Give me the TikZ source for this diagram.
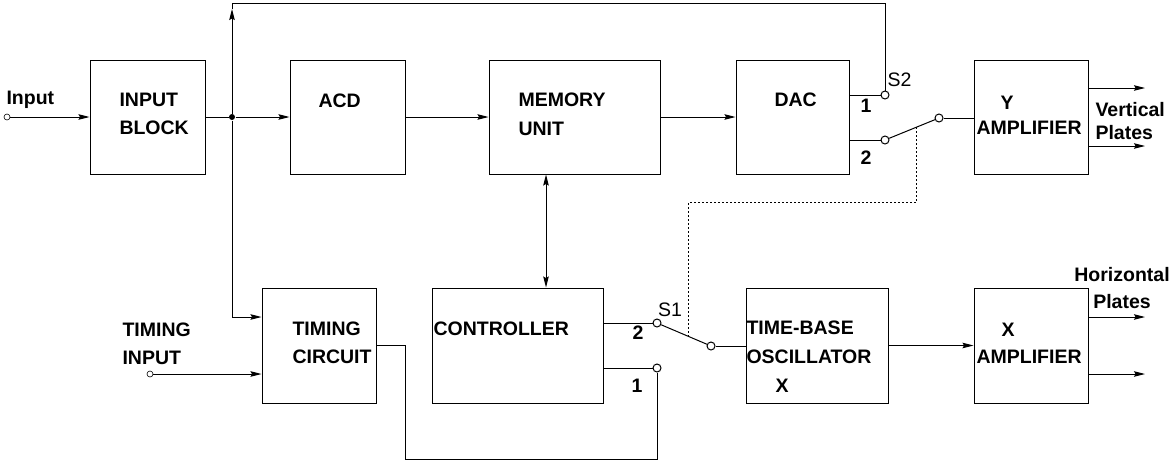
\documentclass[tikz,border=0pt]{standalone}
\usepackage{fontspec}
\setmainfont{Liberation Sans}
\usetikzlibrary{arrows.meta,calc}
\begin{document}
\begin{tikzpicture}[x=1pt, y=-1pt, line width=1pt,
        >={Stealth[length=11pt,width=5.5pt,inset=1.5pt]},
        blk/.style={draw, rectangle, inner sep=0pt, minimum height=114pt},
        txt/.style={font=\fontsize{19.5}{28}\selectfont\bfseries, align=left, anchor=west, inner sep=0pt},
        lbl/.style={font=\fontsize{19.5}{24}\selectfont\bfseries, inner sep=0pt},
        swlbl/.style={font=\fontsize{19.5}{24}\selectfont, inner sep=0pt},
        sw/.style={draw, circle, fill=white, inner sep=0pt, minimum size=8pt},
        term/.style={draw, circle, fill=white, inner sep=0pt, minimum size=6pt, line width=0.6pt},
        dotline/.style={line width=0.8pt, dash pattern=on 2pt off 2pt}]
        \useasboundingbox (0,0) rectangle (1169,461);
        \node[blk, minimum width=115pt] (inblk) at (147.5,117) {};
        \node[blk, minimum width=115pt] (acd) at (347.5,117) {};
        \node[blk, minimum width=171pt] (mem) at (574.5,117) {};
        \node[blk, minimum width=113pt] (dac) at (792.5,117) {};
        \node[blk, minimum width=114pt] (yamp) at (1031,117) {};
        \node[blk, minimum width=114pt, minimum height=115pt] (tim) at (319,345.5) {};
        \node[blk, minimum width=171pt, minimum height=115pt] (ctrl) at (517.5,345.5) {};
        \node[blk, minimum width=142pt, minimum height=115pt] (tbo) at (817,345.5) {};
        \node[blk, minimum width=114pt, minimum height=115pt] (xamp) at (1031,345.5) {};
        \node[txt] (tinput) at (6,100) {Input};
        \node[txt] (tinblk) at (119,114) {INPUT\\BLOCK};
        \node[txt] (tacd) at (318,101) {ACD};
        \node[txt] (tmem) at (518,114.5) {MEMORY\\[1pt]UNIT};
        \node[txt] (tdac) at (774,100) {DAC};
        \node[txt] (tyamp) at (976,115.5) {\hspace*{24pt}Y\\[-3pt]AMPLIFIER};
        \node[txt] (ttin) at (122,344) {TIMING\\INPUT};
        \node[txt] (ttim) at (292,343) {TIMING\\CIRCUIT};
        \node[txt] (tctrl) at (433,329) {CONTROLLER};
        \node[txt] (ttbo) at (746,357) {TIME-BASE\\[1pt]OSCILLATOR\\[1pt]\hspace*{29pt}X};
        \node[txt] (txamp) at (976,343.5) {\hspace*{25pt}X\\[-1pt]AMPLIFIER};
        \node[txt] (tvert) at (1095,121.5) {Vertical\\[-5pt]Plates};
        \node[txt, align=center, anchor=center] (thor) at (1122,288.5) {Horizontal\\[-1pt]Plates};
        \node[sw] (s2a) at (885,95) {};
        \node[sw] (s2b) at (885,140) {};
        \node[sw] (s2c) at (939,118) {};
        \node[sw] (s1b) at (657,323) {};
        \node[sw] (s1a) at (657,368) {};
        \node[sw] (s1c) at (711,346) {};
        \node[term] (inpt) at (7,117) {};
        \node[term] (tinpt) at (150,374) {};
        \node[circle, fill, inner sep=0pt, minimum size=6pt] (jn) at (232,117) {};
        \node[swlbl] (ls2) at (899.5,80) {S2};
        \node[lbl] (l21) at (866,106) {1};
        \node[lbl] (l22) at (866,158) {2};
        \node[swlbl] (ls1) at (670,310) {S1};
        \node[lbl] (l12) at (638,333) {2};
        \node[lbl] (l11) at (637,386) {1};
        \coordinate (topup) at (232,9);
        \coordinate (topL) at (232,3);
        \coordinate (loopL) at (405,459);
        \coordinate (dotY) at (0,202);
        \coordinate (m2) at ($(s2b)!0.59!(s2c)$);
        \coordinate (m1) at ($(s1b)!0.59!(s1c)$);
        \coordinate (yo1) at (1145,88);
        \coordinate (yo2) at (1145,146);
        \coordinate (xo1) at (1145,317);
        \coordinate (xo2) at (1145,374);
        \draw[->] (inpt) -- (inblk.west);
        \draw (inblk) -- (jn);
        \draw[->] (jn) -- (acd);
        \draw[->] (acd) -- (mem);
        \draw[->] (mem) -- (dac);
        \draw[<->] ([xshift=-28.5pt]mem.south) -- ([xshift=28.5pt]ctrl.north);
        \draw[->] (jn) -- (topup);
        \draw (topup) -- (topL) -| (s2a);
        \draw[->] (jn) |- ([yshift=28.5pt]tim.west);
        \draw[->] (tinpt) -- (tinpt -| tim.west);
        \draw (s2a -| dac.east) -- (s2a);
        \draw (s2b -| dac.east) -- (s2b);
        \draw (s2b) -- (s2c);
        \draw (s2c) -- (s2c -| yamp.west);
        \draw (s1b -| ctrl.east) -- (s1b);
        \draw (s1a -| ctrl.east) -- (s1a);
        \draw (s1b) -- (s1c);
        \draw (s1c) -- (s1c -| tbo.west);
        \draw (tim.east) -| (loopL) -| (s1a);
        \draw[->] (tbo) -- (xamp);
        \draw[->] ([yshift=29pt]yamp.east) -- (yo1);
        \draw[->] ([yshift=-29pt]yamp.east) -- (yo2);
        \draw[->] ([yshift=28.5pt]xamp.east) -- (xo1);
        \draw[->] ([yshift=-28.5pt]xamp.east) -- (xo2);
        \draw[dotline] (m2) |- (m1 |- dotY) -- (m1);
    \end{tikzpicture}
\end{document}
